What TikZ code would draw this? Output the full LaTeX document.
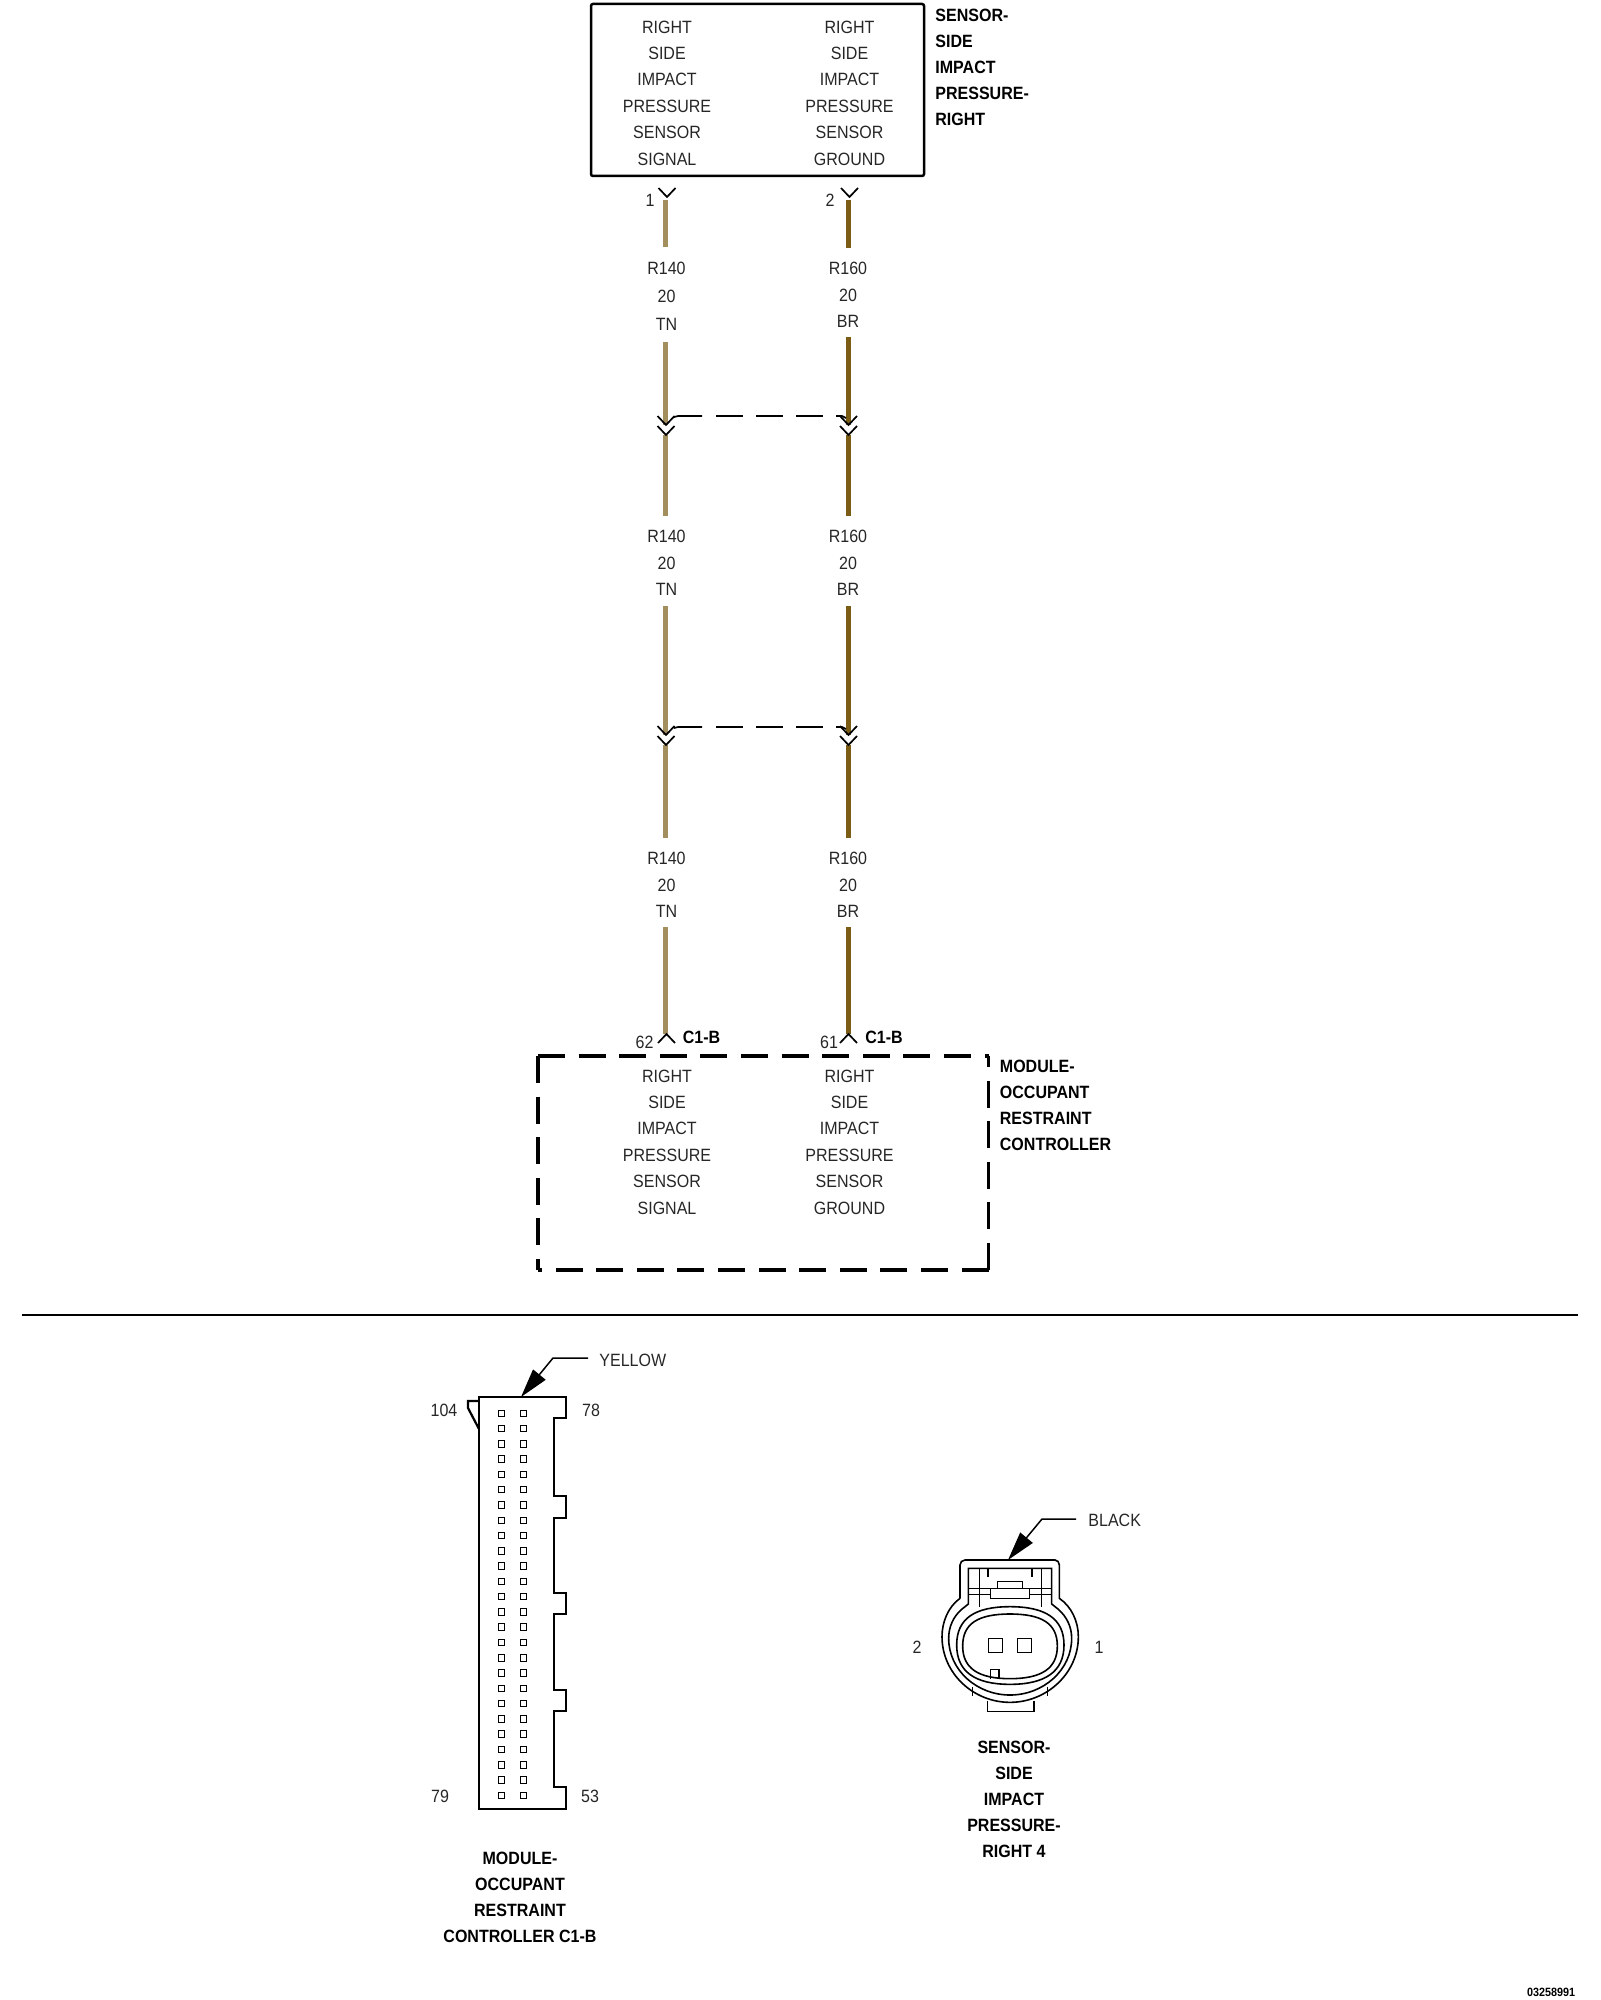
\documentclass[tikz,border=0pt]{standalone}
\usepackage{fontspec}
\setmainfont[FakeStretch=0.9]{Liberation Sans}
\usetikzlibrary{arrows.meta}

\definecolor{tnwire}{RGB}{163,143,94}
\definecolor{brwire}{RGB}{122,92,20}

\tikzset{
    lab/.style={font=\fontsize{8.9}{13.2}\selectfont,inner sep=0pt,color=black!85},
    stack/.style={lab,align=center},
    bold/.style={font=\fontsize{8.9}{13}\selectfont\bfseries,inner sep=0pt},
    side/.style={bold,align=left,anchor=west},
    caption/.style={bold,align=center},
    wire/.style={line width=2.5pt},
    chev/.style={line width=0.85pt},
    thinline/.style={line width=0.8pt},
    cutbox/.style={line width=1.75pt,dash pattern=on 13.5pt off 6.8pt},
    leader/.style={line width=0.75pt,-{Triangle[length=14.5pt,width=8pt]}},
    vdown/.pic={\draw[chev] (-8.5,-9) -- (0,0) -- (8.5,-9);},
    vup/.pic={\draw[chev] (-8.5,9) -- (0,0) -- (8.5,9);}
}

\begin{document}
\begin{tikzpicture}[x=0.5pt,y=-0.5pt]
    \useasboundingbox (0,0) rectangle (1600,2000);

    % sensor box
    \draw[line width=1.25pt,rounded corners=1pt] (591,4) rectangle (924,176);
    \node[stack] (sensorsig) at (667,93) {RIGHT\\SIDE\\IMPACT\\PRESSURE\\SENSOR\\SIGNAL};
    \node[stack] (sensorgnd) at (849.5,93) {RIGHT\\SIDE\\IMPACT\\PRESSURE\\SENSOR\\GROUND};
    \node[side] (sensorname) at (935,67) {SENSOR-\\SIDE\\IMPACT\\PRESSURE-\\RIGHT};

    \node[lab] (pinone) at (650,200) {1};
    \node[lab] (pintwo) at (830,200) {2};

    % wires
    \foreach \n/\ya/\yb in {a/200/247,b/342/425,c/435/516,d/606/735,e/745/838,f/927/1034} {
        \coordinate (tn\n1) at (665.5,\ya);
        \coordinate (tn\n2) at (665.5,\yb);
        \draw[wire,tnwire] (tn\n1) -- (tn\n2);
    }
    \foreach \n/\ya/\yb in {a/200/248,b/337/425,c/435/516,d/606/735,e/745/838,f/927/1034} {
        \coordinate (br\n1) at (848,\ya);
        \coordinate (br\n2) at (848,\yb);
        \draw[wire,brwire] (br\n1) -- (br\n2);
    }

    % connector marks
    \pic at (667,197) {vdown};
    \pic at (849.5,197) {vdown};
    \foreach \x in {666,848.5} {
        \pic at (\x,425) {vdown};
        \pic at (\x,435) {vdown};
        \pic at (\x,735) {vdown};
        \pic at (\x,745) {vdown};
    }
    \pic at (666.5,1034) {vup};
    \pic at (848.5,1034) {vup};

    % shields
    \foreach \y in {416,727} {
        \draw[chev] (674,\y+1) -- (678,\y) -- (702,\y);
        \foreach \x in {716,756,796} {
            \draw[chev] (\x,\y) -- (\x+27,\y);
        }
        \draw[chev] (836,\y) -- (842,\y) -- (846,\y+2);
    }

    % wire codes
    \node[stack,font=\fontsize{8.9}{14}\selectfont] (codea) at (666.5,296) {R140\\20\\TN};
    \node[stack] (codeb) at (848,295) {R160\\20\\BR};
    \node[stack] (codec) at (666.5,563) {R140\\20\\TN};
    \node[stack] (coded) at (848,563) {R160\\20\\BR};
    \node[stack] (codee) at (666.5,885) {R140\\20\\TN};
    \node[stack] (codef) at (848,885) {R160\\20\\BR};

    % module box
    \node[lab] (pinsig) at (644.5,1042) {62};
    \node[lab] (pingnd) at (829,1042) {61};
    \node[bold,anchor=west] (cona) at (682.5,1037) {C1-B};
    \node[bold,anchor=west] (conb) at (865,1037) {C1-B};

    \coordinate (mtl) at (538,1056);
    \coordinate (mtr) at (988.5,1056);
    \coordinate (mbr) at (988.5,1270);
    \coordinate (mbl) at (538,1270);
    \draw[cutbox] (mtl) -- (mtr);
    \draw[cutbox] (mbr) -- (mtr);
    \draw[cutbox] (mbr) -- (mbl);
    \draw[cutbox] (mtl) -- (mbl);

    \node[stack] (modsig) at (667,1142) {RIGHT\\SIDE\\IMPACT\\PRESSURE\\SENSOR\\SIGNAL};
    \node[stack] (modgnd) at (849.5,1142) {RIGHT\\SIDE\\IMPACT\\PRESSURE\\SENSOR\\GROUND};
    \node[side] (modname) at (999.5,1105) {MODULE-\\OCCUPANT\\RESTRAINT\\CONTROLLER};

    % divider
    \draw[line width=1pt] (21.5,1315) -- (1578,1315);

    % connector C1-B
    \draw[line width=1.35pt,line join=miter]
        (479,1397) -- (566,1397) -- (566,1418) -- (554,1418) -- (554,1496) -- (566,1496)
        -- (566,1518) -- (554,1518) -- (554,1593) -- (566,1593) -- (566,1614) -- (554,1614)
        -- (554,1690) -- (566,1690) -- (566,1711) -- (554,1711) -- (554,1787) -- (566,1787)
        -- (566,1809) -- (479,1809) -- cycle;
    \draw[line width=1.1pt] (479,1401) -- (468,1401) -- (468,1408) -- (479,1429);
    \foreach \i in {0,...,25} {
        \draw[line width=0.45pt] (498,1410+\i*15.28) rectangle +(6.5,6.5);
        \draw[line width=0.45pt] (520,1410+\i*15.28) rectangle +(6.5,6.5);
    }
    \node[lab] (pinonefour) at (444,1410) {104};
    \node[lab] (pinseveneight) at (591,1410) {78};
    \node[lab] (pinsevennine) at (440,1796) {79};
    \node[lab] (pinfivethree) at (590,1796) {53};
    \node[lab,anchor=west] (yellow) at (599,1360) {YELLOW};
    \coordinate (yellowtip) at (521,1397);
    \draw[leader] (yellow.west)++(-11,-2) -- (553,1358) -- (yellowtip);
    \node[caption] (modcap) at (520,1897) {MODULE-\\OCCUPANT\\RESTRAINT\\CONTROLLER C1-B};

    % connector sensor 4
    \begin{scope}[shift={(900,1490)},scale=1/3]
        \draw[thinline] (180,325) -- (180,225) to[out=90,in=180] (195,210) -- (465,210)
            to[out=0,in=90] (478,225) -- (478,325)
            .. controls (515,350) and (535,395) .. (535,440)
            .. controls (535,550) and (440,637) .. (330,637)
            .. controls (220,637) and (126,550) .. (126,440)
            .. controls (126,395) and (145,350) .. (180,325);
        \draw[thinline] (185,358) .. controls (160,380) and (146,410) .. (146,445)
            .. controls (146,540) and (230,615) .. (330,615)
            .. controls (430,615) and (515,540) .. (515,445)
            .. controls (515,410) and (500,380) .. (475,358);
        \draw[thinline] (170,465) .. controls (170,385) and (225,350) .. (330,350)
            .. controls (435,350) and (492,385) .. (492,465)
            .. controls (492,545) and (435,583) .. (330,583)
            .. controls (225,583) and (170,545) .. (170,465) -- cycle;
        \draw[thinline] (188,468) .. controls (188,400) and (235,372) .. (330,372)
            .. controls (425,372) and (472,400) .. (472,468)
            .. controls (472,535) and (425,566) .. (330,566)
            .. controls (235,566) and (188,535) .. (188,468) -- cycle;
        \draw[thinline] (185,358) -- (205,342) -- (205,235) -- (455,235) -- (455,342) -- (475,358);
        \draw[thinline] (238,235) -- (238,352);
        \draw[thinline] (425,235) -- (425,352);
        \draw[line width=1pt] (263,237) -- (263,260);
        \draw[line width=1pt] (397,237) -- (397,260);
        \draw[thinline] (205,296) -- (272,296);
        \draw[thinline] (205,314) -- (272,314);
        \draw[thinline] (388,296) -- (455,296);
        \draw[thinline] (388,314) -- (455,314);
        \draw[thinline] (272,296) rectangle (388,325);
        \draw[thinline] (293,296) -- (293,275) -- (368,275) -- (368,296);
        \draw[thinline] (218,590) -- (218,617);
        \draw[thinline] (442,590) -- (442,617);
        \draw[thinline] (262,632) -- (262,665) -- (402,665) -- (402,632);
        \draw[thinline] (265,445) rectangle (307,488);
        \draw[thinline] (352,445) rectangle (395,488);
        \draw[thinline] (272,566) -- (272,538) -- (297,538) -- (297,566);
    \end{scope}
    \node[lab] (pinfar) at (917,1647) {2};
    \node[lab] (pinnear) at (1099,1647) {1};
    \node[lab,anchor=west] (black) at (1088,1520) {BLACK};
    \coordinate (blacktip) at (1008,1560);
    \draw[leader] (black.west)++(-12,-1) -- (1042,1519) -- (blacktip);
    \node[caption] (sensorcap) at (1014,1799.5) {SENSOR-\\SIDE\\IMPACT\\PRESSURE-\\RIGHT 4};

    \node[bold,font=\fontsize{6}{7}\selectfont\bfseries] (drawno) at (1551,1992) {03258991};
\end{tikzpicture}
\end{document}
